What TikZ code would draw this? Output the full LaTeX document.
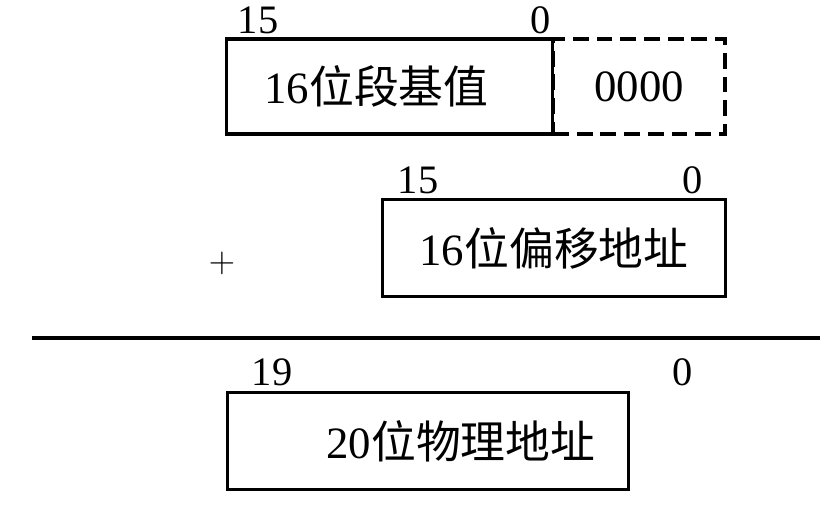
\documentclass[tikz,border=0pt]{standalone}
\usepackage{fontspec}
\setmainfont{Liberation Serif}
\newfontfamily\cjk{Noto Sans CJK SC}
\tikzset{
  regbox/.style={draw, line width=2pt, inner sep=0pt, font=\fontsize{25.5}{28}\selectfont},
  zerobox/.style={regbox, dash pattern=on 9pt off 4.5pt},
  bitnum/.style={inner sep=0pt, font=\fontsize{23}{26}\selectfont}
}
\begin{document}
\begin{tikzpicture}[x=0.02cm, y=-0.02cm]
  \useasboundingbox (0,0) rectangle (835,508);

  % Registri
  \node[zerobox, minimum width=3.44cm, minimum height=1.9cm] (zeros) at (639,86.5) {0000};
  \node[regbox, minimum width=6.52cm, minimum height=1.9cm] (seg) at (389.5,86.5) {16{\cjk 位段基值}\hspace*{0.52cm}};
  \node[regbox, minimum width=6.86cm, minimum height=1.94cm] (off) at (554,248) {16{\cjk 位偏移地址}};
  \node[regbox, minimum width=8.02cm, minimum height=1.94cm] (phys) at (428,441) {\hspace*{1.32cm}20{\cjk 位物理地址}};

  % Numeri dei bit
  \node[bitnum] (seghi) at (258,20) {15};
  \node[bitnum] (seglo) at (541,20) {0};
  \node[bitnum] (offhi) at (418,180) {15};
  \node[bitnum] (offlo) at (693,180) {0};
  \node[bitnum] (physhi) at (272,372) {19};
  \node[bitnum] (physlo) at (683,372) {0};

  % Somma
  \node[inner sep=0pt, font=\fontsize{20}{22}\selectfont] (plus) at (222,263) {$+$};
  \coordinate (sumL) at (32,338);
  \coordinate (sumR) at (820,338);
  \draw[line width=2pt] (sumL) -- (sumR);
\end{tikzpicture}
\end{document}
